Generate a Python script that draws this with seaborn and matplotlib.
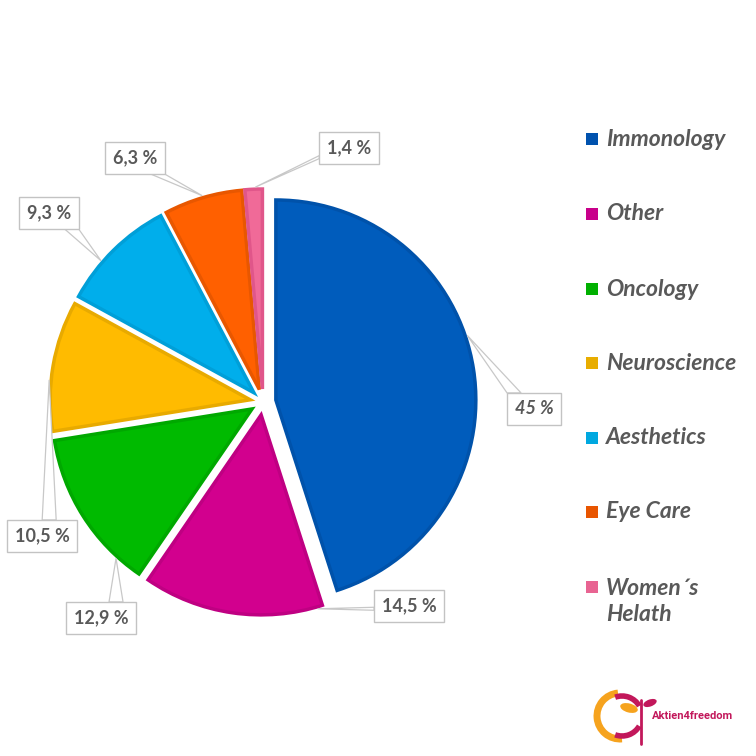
import matplotlib
matplotlib.use("Agg")
import matplotlib.pyplot as plt
import seaborn as sns
import numpy as np
from matplotlib.patches import Rectangle, Polygon, Arc, Ellipse

# ---------------- data ----------------
categories = ["Immonology", "Other", "Oncology", "Neuroscience",
              "Aesthetics", "Eye Care", "Women´s\nHelath"]
shares = [45, 14.5, 12.9, 10.5, 9.3, 6.3, 1.4]
value_labels = ["45 %", "14,5 %", "12,9 %", "10,5 %", "9,3 %", "6,3 %", "1,4 %"]

# ---------------- styles / layout ----------------
face_colors = ["#005CBC", "#D2008E", "#00BA00", "#FFBB00", "#00AEEB", "#FF6000", "#F06A98"]
edge_colors = ["#0052AA", "#BF0082", "#00A800", "#E8AA00", "#009FD8", "#E85700", "#E0568A"]
legend_colors = ["#0052AE", "#C8008A", "#00B000", "#E8AD00", "#00A8E0", "#E85500", "#E86492"]
text_gray = "#595959"
label_pos = [(534, 409), (409, 606), (101, 618), (42, 536), (49, 213), (135, 158), (349, 148)]
anchor_frac = [0.44, 0.03, 0.17, 0.39, 0.36, 0.5, 0.6]
leg_y = [139, 214, 289, 363, 438, 512, 587]

W = H = 756
sns.set_theme(style="white")
plt.rcParams['font.family'] = ['Lato', 'DejaVu Sans']

fig = plt.figure(figsize=(W / 100, H / 100), dpi=100)
ax = fig.add_axes([0, 0, 1, 1])

cx, cy, R, EXP = 263, H - 402, 200, 13
wedges, _ = ax.pie(shares, colors=sns.color_palette(face_colors), startangle=90,
                   counterclock=False, center=(cx, cy), radius=R,
                   explode=[EXP] * len(shares),
                   wedgeprops=dict(linewidth=2.5))
for w, ec in zip(wedges, edge_colors):
    w.set_edgecolor(ec)
    w.set_joinstyle('miter')

ax.set_xlim(0, W)
ax.set_ylim(0, H)
ax.set_aspect('equal')
ax.axis('off')

# ---------------- data labels with callouts ----------------
texts = []
for i, (lab, (px, py)) in enumerate(zip(value_labels, label_pos)):
    t = ax.text(px, H - py, lab, ha='center', va='center', fontsize=13,
                fontweight='bold', style='italic' if i == 0 else 'normal',
                color=text_gray, zorder=6,
                bbox=dict(boxstyle='square,pad=0.42', fc='white', ec='#C3C3C3', lw=1))
    texts.append(t)

fig.canvas.draw()
renderer = fig.canvas.get_renderer()
inv = ax.transData.inverted()
for w, t, fr in zip(wedges, texts, anchor_frac):
    # walk clockwise from the wedge's start angle (theta2) towards theta1
    th = np.deg2rad(w.theta2 - fr * (w.theta2 - w.theta1))
    tx = w.center[0] + w.r * 1.01 * np.cos(th)
    ty = w.center[1] + w.r * 1.01 * np.sin(th)
    bb = t.get_bbox_patch().get_window_extent(renderer)
    (x0, y0), (x1, y1) = inv.transform([(bb.x0, bb.y0), (bb.x1, bb.y1)])
    bx, by, bw, bh = (x0 + x1) / 2, (y0 + y1) / 2, x1 - x0, y1 - y0
    dx, dy = tx - bx, ty - by
    half = 7
    if abs(dx) / (bw / 2) > abs(dy) / (bh / 2):
        ex = bx + np.sign(dx) * bw / 2
        yc = np.clip(ty, y0 + half, y1 - half)
        base = [(ex, yc - 1.5), (ex, yc + 1.5)]
    else:
        ey = by + np.sign(dy) * bh / 2
        xc = np.clip(tx, x0 + half, x1 - half)
        base = [(xc - half, ey), (xc + half, ey)]
    ax.add_patch(Polygon([base[0], (tx, ty), base[1]], closed=True,
                         fc='white', ec='#C8C8C8', lw=0.9, zorder=5))

# ---------------- legend ----------------
for cat, col, ly in zip(categories, legend_colors, leg_y):
    ax.add_patch(Rectangle((586, H - ly - 6), 12, 12, fc=col, ec='none', zorder=6))
    if "\n" in cat:
        ax.text(606, H - (ly + 616) / 2, cat, ha='left', va='center', fontsize=16.5,
                fontweight='bold', style='italic', color=text_gray, linespacing=1.3)
    else:
        ax.text(606, H - ly, cat, ha='left', va='center', fontsize=16.5,
                fontweight='bold', style='italic', color=text_gray)

# ---------------- logo ----------------
lx, ly = 620, H - 716
ax.add_patch(Arc((lx, ly), 46, 46, theta1=95, theta2=275, color='#F6A31E', lw=5, zorder=6))
ax.add_patch(Arc((lx + 2, ly), 40, 40, theta1=30, theta2=110, color='#C2185B', lw=4, zorder=6))
ax.add_patch(Arc((lx + 2, ly), 40, 40, theta1=250, theta2=330, color='#C2185B', lw=4, zorder=6))
ax.plot([641, 641], [H - 700, H - 744], color='#C2185B', lw=2, zorder=6)
ax.add_patch(Ellipse((629, H - 708), 18, 9, angle=-15, fc='#F6A31E', ec='none', zorder=6))
ax.add_patch(Ellipse((650, H - 703), 14, 7, angle=20, fc='#C2185B', ec='none', zorder=6))
ax.text(652, H - 716, "Aktien4freedom", ha='left', va='center', fontsize=8,
        fontweight='bold', color='#C2185B', family=['Roboto', 'DejaVu Sans'])

fig.savefig("out.png", dpi=100, facecolor='white')
